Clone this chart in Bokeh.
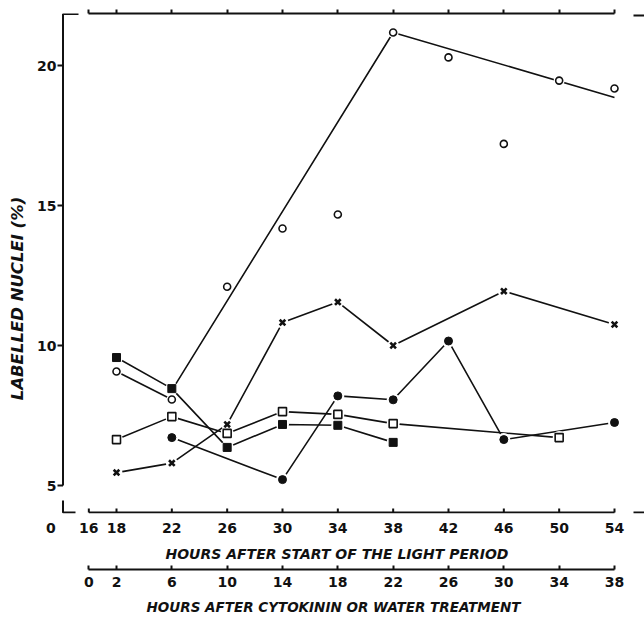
import math
from bokeh.plotting import figure
from bokeh.models import LinearAxis, Range1d, FixedTicker, Title
from bokeh.core.properties import value
from bokeh.embed import file_html
from bokeh.resources import INLINE

# ---------------- data ----------------
light_ticks = [16, 18, 22, 26, 30, 34, 38, 42, 46, 50, 54]
treat_ticks = [0, 2, 6, 10, 14, 18, 22, 26, 30, 34, 38]
pct_ticks = [5, 10, 15, 20]
pct_tick_labels = ["5", "10", "15", "20"]
origin_tick = 13.25          # position of the isolated "0" left of the time axis
origin_label = "0"

open_circle_h = [18, 22, 26, 30, 34, 38, 42, 46, 50, 54]
open_circle_v = [9.07, 8.07, 12.1, 14.18, 14.68, 21.18, 20.29, 17.2, 19.46, 19.18]
open_circle_link_h = [18, 22]
open_circle_link_v = [9.07, 8.07]
open_circle_trend_h = [22, 38, 54]
open_circle_trend_v = [8.4, 21.18, 18.86]

cross_h = [18, 22, 26, 30, 34, 38, 46, 54]
cross_v = [5.46, 5.8, 7.18, 10.82, 11.55, 10.0, 11.94, 10.75]

filled_square_h = [18, 22, 26, 30, 34, 38]
filled_square_v = [9.57, 8.46, 6.36, 7.18, 7.15, 6.54]

open_square_h = [18, 22, 26, 30, 34, 38, 50]
open_square_v = [6.64, 7.46, 6.86, 7.64, 7.54, 7.21, 6.71]

filled_circle_h = [22, 30, 34, 38, 42, 46, 54]
filled_circle_v = [6.71, 5.21, 8.2, 8.06, 10.16, 6.64, 7.25]

y_label = "LABELLED NUCLEI (%)"
x_label_light = "HOURS AFTER START OF THE LIGHT PERIOD"
x_label_treat = "HOURS AFTER CYTOKININ  OR WATER TREATMENT"
treat_offset = 16  # treatment hours = light hours - 16

# ---------------- geometry ----------------
W, H = 644, 621
frame_left, frame_right, frame_top, frame_bottom = 0, 644, 13, 513
pxh = (614 - 116) / 36.0          # pixels per hour
pxv = 28.0                        # pixels per percent
x0 = 18 - (116 - frame_left) / pxh
x1 = x0 + (frame_right - frame_left) / pxh
y0 = 5 - (frame_bottom - 485) / pxv
y1 = y0 + (frame_bottom - frame_top) / pxv

def hx(px):
    return x0 + (px - frame_left) / pxh

def vy(py):
    return y0 + (frame_bottom - py) / pxv

FONT = "DejaVu Sans"
BLACK = "#111111"

p = figure(width=W, height=H, output_backend="svg", toolbar_location=None,
           x_range=Range1d(x0, x1), y_range=Range1d(y0, y1),
           x_axis_location=None, y_axis_location=None,
           min_border_left=frame_left, min_border_right=W - frame_right,
           min_border_top=frame_top, min_border_bottom=H - frame_bottom,
           outline_line_color=None, background_fill_color="white",
           border_fill_color="white")
p.grid.visible = False
p.extra_x_ranges = {"treat": Range1d(x0 - treat_offset, x1 - treat_offset)}

def style_axis(ax):
    ax.axis_line_color = BLACK
    ax.axis_line_width = 2
    ax.major_tick_line_color = BLACK
    ax.major_tick_line_width = 2
    ax.minor_tick_line_color = None
    ax.major_label_text_font = FONT
    ax.major_label_text_font_style = "bold"
    ax.major_label_text_font_size = "14px"
    ax.major_label_text_color = BLACK

# top axis (ticks only)
tax = LinearAxis(ticker=FixedTicker(ticks=light_ticks), bounds=(16, 54))
style_axis(tax)
tax.major_tick_in = 0
tax.major_tick_out = 4
tax.major_label_overrides = {t: "" for t in light_ticks}
tax.major_label_standoff = 0
p.add_layout(tax, "above")

# bottom axis 1: light period (labels; its rule and ticks are drawn in the frame below)
bax = LinearAxis(ticker=FixedTicker(ticks=[origin_tick] + light_ticks),
                 bounds=(origin_tick, light_ticks[-1]))
style_axis(bax)
bax.axis_line_color = None
bax.major_tick_line_color = None
bax.major_tick_in = 0
bax.major_tick_out = 0
bax.major_label_standoff = 9
bax.major_label_overrides = {origin_tick: origin_label}
p.add_layout(bax, "below")

t1 = Title(text=x_label_light, align="left", offset=165 - frame_left, standoff=16,
           text_font=FONT, text_font_style="bold italic", text_font_size="14px",
           text_color=BLACK)
p.add_layout(t1, "below")

# bottom axis 2: treatment
bax2 = LinearAxis(x_range_name="treat", ticker=FixedTicker(ticks=treat_ticks),
                  bounds=(treat_ticks[0], treat_ticks[-1]))
style_axis(bax2)
bax2.major_tick_in = 4
bax2.major_tick_out = 0
bax2.major_label_standoff = 7
p.add_layout(bax2, "below")

t2 = Title(text=x_label_treat, align="left", offset=146 - frame_left, standoff=14,
           text_font=FONT, text_font_style="bold italic", text_font_size="13.5px",
           text_color=BLACK)
p.add_layout(t2, "below")

# ---- vertical (percent) axis, drawn through the plot's scales ----
ax_x = hx(62.5)
p.line([ax_x, ax_x, hx(78)], [pct_ticks[0], vy(13.5), vy(13.5)], line_color=BLACK, line_width=2)
p.segment(x0=[hx(57)] * len(pct_ticks), y0=pct_ticks, x1=[ax_x] * len(pct_ticks), y1=pct_ticks,
          line_color=BLACK, line_width=2)
p.text(x=[hx(56)] * len(pct_ticks), y=pct_ticks, text=pct_tick_labels,
       text_font=value(FONT), text_font_style="bold", text_font_size=value("14px"),
       text_align="right", text_baseline="middle", text_color=BLACK)
p.text(x=[hx(17)], y=[vy(298)], text=[y_label], angle=math.pi / 2,
       text_font=value(FONT), text_font_style="bold italic", text_font_size=value("16.5px"),
       text_align="center", text_baseline="middle", text_color=BLACK)

# rule and ticks of the first time axis, just inside the frame bottom
base = vy(512)
tick_top = vy(508)
p.line([light_ticks[0], light_ticks[-1]], [base, base], line_color=BLACK, line_width=2)
p.segment(x0=light_ticks, y0=[base] * len(light_ticks), x1=light_ticks,
          y1=[tick_top] * len(light_ticks), line_color=BLACK, line_width=2)

# axis break marks
p.line([ax_x, ax_x, hx(75)], [vy(500), vy(512), vy(512)], line_color=BLACK, line_width=2)
p.line([hx(633), hx(644)], [vy(15), vy(15)], line_color=BLACK, line_width=2)
p.line([hx(633), hx(644)], [vy(512), vy(512)], line_color=BLACK, line_width=2)

# ---------------- series ----------------
LW = 1.6
p.line(open_circle_link_h, open_circle_link_v, line_color=BLACK, line_width=LW)
p.line(open_circle_trend_h, open_circle_trend_v, line_color=BLACK, line_width=LW)
p.line(cross_h, cross_v, line_color=BLACK, line_width=LW)
p.line(filled_square_h, filled_square_v, line_color=BLACK, line_width=LW)
p.line(open_square_h, open_square_v, line_color=BLACK, line_width=LW)
p.line(filled_circle_h, filled_circle_v, line_color=BLACK, line_width=LW)

# white halos so lines stop short of the symbols
for hh, vv, s in [(open_circle_h, open_circle_v, 11), (cross_h, cross_v, 12),
                  (filled_square_h, filled_square_v, 13), (open_square_h, open_square_v, 13),
                  (filled_circle_h, filled_circle_v, 13)]:
    p.scatter(hh, vv, marker="circle", size=s, fill_color="white", line_color=None)

p.scatter(open_circle_h, open_circle_v, marker="circle", size=7, fill_color="white",
          line_color=BLACK, line_width=1.6)
p.scatter(cross_h, cross_v, marker="x", size=8, line_color=BLACK, line_width=2.6)
p.scatter(filled_square_h, filled_square_v, marker="square", size=8, fill_color=BLACK,
          line_color=BLACK, line_width=1)
p.scatter(open_square_h, open_square_v, marker="square", size=8, fill_color="white",
          line_color=BLACK, line_width=1.6)
p.scatter(filled_circle_h, filled_circle_v, marker="circle", size=8, fill_color=BLACK,
          line_color=BLACK, line_width=1)

open("out.html", "w").write(file_html(p, INLINE))
